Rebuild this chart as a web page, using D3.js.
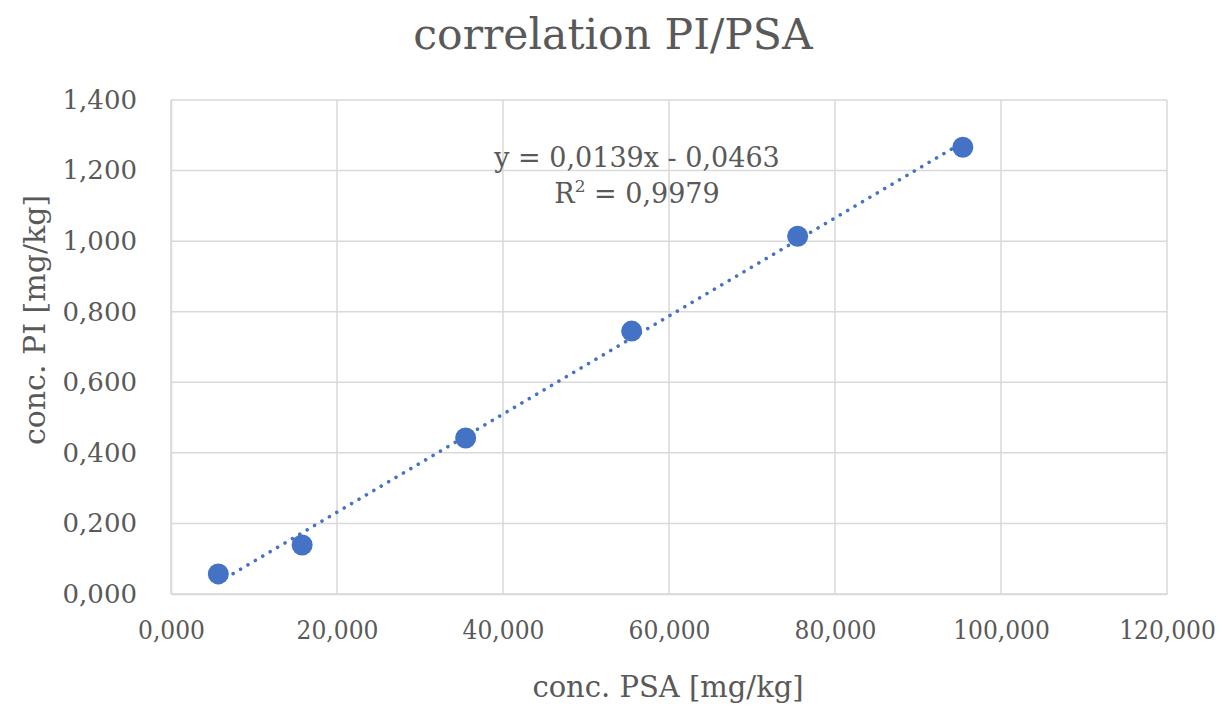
<!DOCTYPE html>
<html>
<head>
<meta charset="utf-8">
<script src="https://cdnjs.cloudflare.com/ajax/libs/d3/7.8.5/d3.min.js"></script>
<style>
  body { margin: 0; background: #fff; }
  text { font-family: "DejaVu Serif", serif; fill: #595959; }
</style>
</head>
<body>
<svg id="chart" width="1229" height="706"></svg>
<script>
// data
const psa = [5.7, 15.8, 35.5, 55.5, 75.5, 95.4];
const pi = [0.057, 0.139, 0.442, 0.745, 1.014, 1.266];
const xTicks = [0, 20, 40, 60, 80, 100, 120];
const yTicks = [0, 0.2, 0.4, 0.6, 0.8, 1.0, 1.2, 1.4];
// trendline from the chart label
const slope = 0.0139;
const intercept = -0.0463;

const svg = d3.select('#chart');
const margin = { left: 171, right: 62, top: 100, bottom: 112 };
const width = 1229 - margin.left - margin.right;
const height = 706 - margin.top - margin.bottom;

const x = d3.scaleLinear().domain([0, 120]).range([0, width]);
const y = d3.scaleLinear().domain([0, 1.4]).range([height, 0]);

const fmt = v => d3.format('.3f')(v).replace('.', ',');

const g = svg.append('g').attr('transform', `translate(${margin.left},${margin.top})`);

// gridlines
g.append('g')
  .selectAll('line')
  .data(yTicks)
  .enter()
  .append('line')
  .attr('x1', 0).attr('x2', width)
  .attr('y1', d => y(d)).attr('y2', d => y(d))
  .attr('stroke', '#d9d9d9').attr('stroke-width', 1.5);

g.append('g')
  .selectAll('line')
  .data(xTicks)
  .enter()
  .append('line')
  .attr('x1', d => x(d)).attr('x2', d => x(d))
  .attr('y1', 0).attr('y2', height)
  .attr('stroke', '#d9d9d9').attr('stroke-width', 1.5);

// axes (labels only, Excel style)
const xAxis = g.append('g')
  .attr('transform', `translate(0,${height})`)
  .call(d3.axisBottom(x).tickValues(xTicks).tickFormat(fmt).tickSize(0).tickPadding(27));
xAxis.select('.domain').attr('stroke', '#d9d9d9').attr('stroke-width', 1.5);
xAxis.selectAll('text')
  .attr('font-size', 26)
  .attr('fill', '#595959')
  .attr('transform', 'scale(0.9,1)')
  .attr('x', function() { return 0; });
// keep labels centred on their tick after the squeeze
xAxis.selectAll('.tick text').each(function() {
  const tick = d3.select(this.parentNode);
  const tx = +tick.attr('transform').match(/translate\(([-\d.]+)/)[1];
  tick.attr('transform', `translate(${tx},0)`);
});

const yAxis = g.append('g')
  .call(d3.axisLeft(y).tickValues(yTicks).tickFormat(fmt).tickSize(0).tickPadding(34));
yAxis.select('.domain').attr('stroke', '#d9d9d9').attr('stroke-width', 1.5);
yAxis.selectAll('text').attr('font-size', 26).attr('fill', '#595959');

// trendline
const xs = d3.extent(psa);
g.append('line')
  .attr('x1', x(xs[0])).attr('y1', y(slope * xs[0] + intercept))
  .attr('x2', x(xs[1])).attr('y2', y(slope * xs[1] + intercept))
  .attr('stroke', '#4472c4')
  .attr('stroke-width', 3.5)
  .attr('stroke-linecap', 'round')
  .attr('stroke-dasharray', '0.1 8.5');

// points
g.append('g')
  .selectAll('circle')
  .data(psa)
  .enter()
  .append('circle')
  .attr('cx', d => x(d))
  .attr('cy', (d, i) => y(pi[i]))
  .attr('r', 10.5)
  .attr('fill', '#4472c4');

// equation label
g.append('text')
  .attr('x', 466).attr('y', 67)
  .attr('text-anchor', 'middle')
  .attr('font-size', 27)
  .text('y = 0,0139x - 0,0463');
const r2 = g.append('text')
  .attr('x', 466).attr('y', 103)
  .attr('text-anchor', 'middle')
  .attr('font-size', 27);
r2.append('tspan').text('R');
r2.append('tspan').attr('dy', -11).attr('font-size', 17).text('2');
r2.append('tspan').attr('dy', 11).text(' = 0,9979');

// title
svg.append('text')
  .attr('x', 613).attr('y', 49)
  .attr('text-anchor', 'middle')
  .attr('font-size', 42.5)
  .text('correlation PI/PSA');

// axis titles
svg.append('text')
  .attr('x', 668).attr('y', 697)
  .attr('text-anchor', 'middle')
  .attr('font-size', 29)
  .text('conc. PSA [mg/kg]');

svg.append('text')
  .attr('transform', 'translate(45,320) rotate(-90)')
  .attr('text-anchor', 'middle')
  .attr('font-size', 30)
  .text('conc. PI [mg/kg]');
</script>
</body>
</html>
